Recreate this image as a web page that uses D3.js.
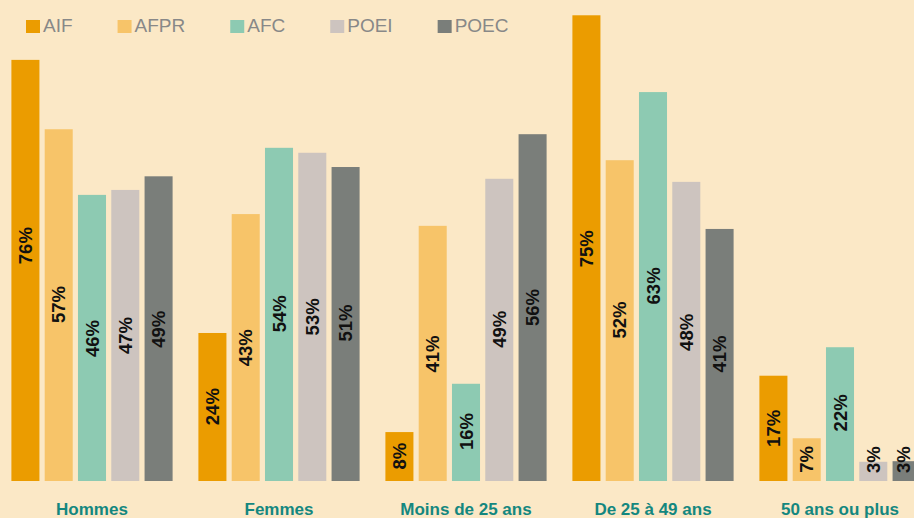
<!DOCTYPE html>
<html>
<head>
<meta charset="utf-8">
<script src="https://cdn.jsdelivr.net/npm/d3@7"></script>
<style>
  html, body { margin: 0; padding: 0; background: #FBE8C6; }
  svg { display: block; }
</style>
</head>
<body>
<svg id="chart" width="914" height="518"></svg>
<script>
// ---- Data ----
const categories = ["Hommes", "Femmes", "Moins de 25 ans", "De 25 à 49 ans", "50 ans ou plus"];
const seriesNames = ["AIF", "AFPR", "AFC", "POEI", "POEC"];
// bar heights (in %), as drawn
const valuesAIF  = [68.0, 23.9,  7.9, 75.2, 17.0];
const valuesAFPR = [56.8, 43.1, 41.2, 51.8,  6.9];
const valuesAFC  = [46.2, 53.8, 15.7, 62.8, 21.6];
const valuesPOEI = [47.0, 53.0, 48.8, 48.3,  3.1];
const valuesPOEC = [49.2, 50.7, 56.0, 40.7,  3.2];
// data labels (in %), as printed
const labelsAIF  = [76, 24,  8, 75, 17];
const labelsAFPR = [57, 43, 41, 52,  7];
const labelsAFC  = [46, 54, 16, 63, 22];
const labelsPOEI = [47, 53, 49, 48,  3];
const labelsPOEC = [49, 51, 56, 41,  3];

const seriesValues = [valuesAIF, valuesAFPR, valuesAFC, valuesPOEI, valuesPOEC];
const seriesLabels = [labelsAIF, labelsAFPR, labelsAFC, labelsPOEI, labelsPOEC];
const colors = ["#EB9C00", "#F7C469", "#8DCAB2", "#CDC4BF", "#7A7E7A"];

// ---- Layout ----
const svg = d3.select("#chart");
const W = 914, H = 518;
const baseY = 481;
const font = "'Liberation Sans', Arial, Helvetica, sans-serif";

svg.append("rect").attr("width", W).attr("height", H).attr("fill", "#FBE8C6");

const x0 = d3.scaleBand().domain(categories).range([-1.5, 933.5])
  .paddingInner(0.138).paddingOuter(0.069);
const x1 = d3.scaleBand().domain(seriesNames).range([0, x0.bandwidth()])
  .paddingInner(0.158).paddingOuter(0);
const y = d3.scaleLinear().domain([0, 80]).range([baseY, baseY - 80 * 6.193]);

const color = d3.scaleOrdinal().domain(seriesNames).range(colors);

const rows = [];
categories.forEach((c, ci) => {
  seriesNames.forEach((s, si) => {
    rows.push({cat: c, series: s, value: seriesValues[si][ci], label: seriesLabels[si][ci]});
  });
});

const groups = svg.append("g").selectAll("g").data(categories).join("g")
  .attr("transform", d => `translate(${x0(d)},0)`);

groups.selectAll("rect")
  .data(c => rows.filter(r => r.cat === c))
  .join("rect")
  .attr("x", d => x1(d.series))
  .attr("width", x1.bandwidth())
  .attr("y", d => y(d.value))
  .attr("height", d => baseY - y(d.value))
  .attr("fill", d => color(d.series));

// data labels
const lbl = groups.selectAll("text.val")
  .data(c => rows.filter(r => r.cat === c))
  .join("text")
  .attr("class", "val")
  .attr("font-family", font)
  .attr("font-weight", "bold")
  .attr("font-size", "18.5px")
  .attr("fill", "#111")
  .attr("text-anchor", "middle")
  .attr("dominant-baseline", "central")
  .text(d => d.label + "%");

lbl.each(function(d) {
  const len = this.getComputedTextLength();
  const gx = x0(d.cat);
  let cx = x1(d.series) + x1.bandwidth() / 2;
  cx = Math.min(cx, W - 10.5 - gx);
  let cy = y(d.label / 2);
  cy = Math.min(cy, baseY - len / 2 - 8);
  d3.select(this).attr("transform", `translate(${cx},${cy}) rotate(-90)`);
});

// category labels
svg.append("g").selectAll("text").data(categories).join("text")
  .attr("x", d => x0(d) + x0.bandwidth() / 2)
  .attr("y", 515)
  .attr("text-anchor", "middle")
  .attr("font-family", font)
  .attr("font-weight", "bold")
  .attr("font-size", "17px")
  .attr("fill", "#14877F")
  .text(d => d);

// legend
const legend = svg.append("g");
let lx = 26;
seriesNames.forEach((s, i) => {
  const g = legend.append("g").attr("transform", `translate(${lx},0)`);
  g.append("rect").attr("x", 0).attr("y", 20).attr("width", 14).attr("height", 13).attr("fill", color(s));
  const t = g.append("text").attr("x", 17).attr("y", 31.5)
    .attr("font-family", font).attr("font-size", "19px").attr("fill", "#888888").text(s);
  const tw = t.node().getComputedTextLength();
  lx += 17 + tw + 45;
});
</script>
</body>
</html>
